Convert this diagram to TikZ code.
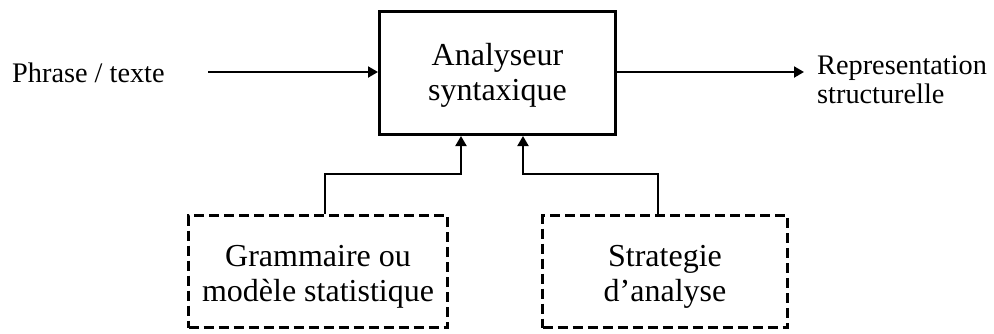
\documentclass[tikz,border=0pt]{standalone}
\usepackage{fontspec}
\setmainfont{Liberation Serif}
\usetikzlibrary{arrows.meta}

\tikzset{
  boxtext/.style={inner sep=0pt, align=center,
    font=\fontsize{32}{35}\selectfont},
  mainbox/.style={draw, line width=3pt, inner sep=0pt,
    minimum width=236pt, minimum height=123pt},
  dashbox/.style={draw, line width=3pt, inner sep=0pt,
    dash pattern=on 10pt off 5pt, minimum height=112pt},
  sidelabel/.style={inner sep=0pt, align=left,
    font=\fontsize{28.3}{28.5}\selectfont},
  conn/.style={line width=2pt, -{Triangle[length=10pt,width=11pt]}}
}

\begin{document}
\begin{tikzpicture}[x=1pt, y=-1pt]
  \useasboundingbox (0,0) rectangle (994,333);

  % central parser block
  \node[mainbox, label={[boxtext, yshift=-2pt]center:Analyseur\\syntaxique}]
    (main) at (497.5,73) {};

  % resources feeding the parser
  \node[dashbox, minimum width=259pt,
        label={[boxtext, yshift=-5.5pt]center:Grammaire ou\\modèle statistique}]
    (gram) at (318,271.5) {};
  \node[dashbox, minimum width=245pt,
        label={[boxtext, yshift=-5.5pt]center:Strategie\\d’analyse}]
    (strat) at (665,271.5) {};

  % input and output
  \node[sidelabel, anchor=west] (inp) at (12,73) {Phrase / texte};
  \node[sidelabel, anchor=west] (outp) at (817,80) {Representation\\structurelle};

  \coordinate (instart) at (208,72);
  \coordinate (outend) at (804,72);
  \coordinate (jg) at (461,174);
  \coordinate (js) at (523,174);

  \draw[conn] (instart) -- (main.west |- instart);
  \draw[conn] (main.east |- outend) -- (outend);
  \draw[conn] ([xshift=7pt]gram.north) |- (jg) -- (jg |- main.south);
  \draw[conn] ([xshift=-7pt]strat.north) |- (js) -- (js |- main.south);
\end{tikzpicture}
\end{document}
